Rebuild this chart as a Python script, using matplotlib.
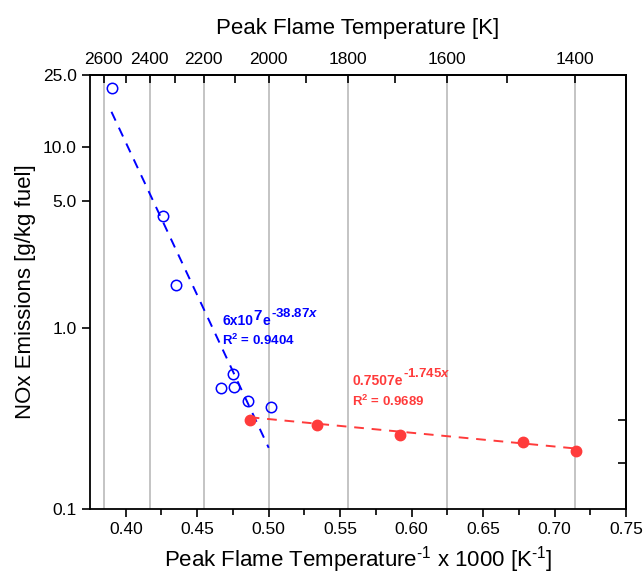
import numpy as np
import matplotlib
matplotlib.use("Agg")
from matplotlib import pyplot as plt
from matplotlib.ticker import FixedLocator, NullLocator, NullFormatter

plt.rcParams['font.family'] = ['Liberation Sans', 'DejaVu Sans']
plt.rcParams['mathtext.fontset'] = 'custom'
plt.rcParams['mathtext.rm'] = 'Liberation Sans'
plt.rcParams['mathtext.it'] = 'Liberation Sans:italic'
plt.rcParams['mathtext.bf'] = 'Liberation Sans:bold'
plt.rcParams['mathtext.bfit'] = 'Liberation Sans:bold:italic'

# Data (x = 1000 / T_peak)
blue_x = [0.3902, 0.4259, 0.4350, 0.4664, 0.4748, 0.4755, 0.4853, 0.5014]
blue_y = [21.2, 4.16, 1.73, 0.466, 0.557, 0.472, 0.395, 0.366]
red_x = [0.4867, 0.5336, 0.5916, 0.6776, 0.7147]
red_y = [0.310, 0.291, 0.255, 0.235, 0.209]

# Exponential fits shown on the chart: y = a * exp(b * x)
blue_fit = (6e7, -38.87)
blue_fit_range = [0.390, 0.500]
red_fit = (0.7507, -1.745)
red_fit_range = [0.4867, 0.7147]

top_temps = [2600, 2400, 2200, 2000, 1800, 1600, 1400]
top_minor = [2500, 2300, 2100, 1900, 1700, 1500]
y_ticks = [0.1, 1.0, 5.0, 10.0, 25.0]
right_ticks = [0.18, 0.31]
x_ticks = [0.40, 0.45, 0.50, 0.55, 0.60, 0.65, 0.70, 0.75]

blue = '#0000ff'
red = '#ff3b3b'

fig = plt.figure(figsize=(6.43, 5.77), dpi=100)
ax = fig.add_axes([0.140, 0.118, 0.8336, 0.752])

# gray guide lines at the top-axis temperatures
for t in top_temps:
    ax.axvline(1000.0 / t, color='#c4c4c4', lw=1.4, zorder=0)

# fit lines
for (a, b), rng, c in [(blue_fit, blue_fit_range, blue), (red_fit, red_fit_range, red)]:
    xx = np.linspace(rng[0], rng[1], 50)
    ax.plot(xx, a * np.exp(b * xx), ls=(0, (5, 4)), color=c, lw=1.4, zorder=2)

ax.plot(blue_x, blue_y, 'o', mfc='none', mec=blue, mew=1.1, ms=7.5, zorder=3)
ax.plot(red_x, red_y, 'o', mfc=red, mec=red, ms=7.5, zorder=3)

ax.set_yscale('log')
ax.set_xlim(0.375, 0.75)
ax.set_ylim(0.1, 25)

ax.yaxis.set_major_locator(FixedLocator(y_ticks))
ax.yaxis.set_minor_locator(NullLocator())
ax.set_yticklabels(['%.1f' % v for v in y_ticks])
ax.xaxis.set_major_locator(FixedLocator(x_ticks))
ax.set_xticklabels(['%.2f' % v for v in x_ticks])
ax.xaxis.set_minor_locator(FixedLocator([v + 0.025 for v in x_ticks]))
ax.tick_params(axis='both', which='major', labelsize=12.5, length=6, width=1.2, direction='out')
ax.tick_params(axis='x', which='minor', length=4, width=1.2, direction='out')
ax.tick_params(axis='x', which='both', top=False)

for s in ax.spines.values():
    s.set_linewidth(1.3)

ax.set_xlabel(r'Peak Flame Temperature$^{\text{-1}}$ x 1000 [K$^{\text{-1}}$]', fontsize=16, labelpad=5)
ax.set_ylabel('NOx Emissions [g/kg fuel]', fontsize=16, labelpad=5)

# right spine: a few inward ticks, no labels
right = ax.secondary_yaxis('right')
right.yaxis.set_major_locator(FixedLocator(right_ticks))
right.yaxis.set_minor_locator(NullLocator())
right.yaxis.set_major_formatter(NullFormatter())
right.tick_params(direction='in', length=6, width=1.2)
right.spines['right'].set_linewidth(1.3)

inv = lambda v: 1000.0 / np.where(v == 0, 1e-9, v)
top = ax.secondary_xaxis('top', functions=(inv, inv))
top.xaxis.set_major_locator(FixedLocator(top_temps))
top.xaxis.set_minor_locator(FixedLocator(top_minor))
top.xaxis.set_minor_formatter(NullFormatter())
top.set_xticklabels([str(t) for t in top_temps])
top.tick_params(which='major', direction='in', length=6, width=1.2, labelsize=12.5, pad=6)
top.tick_params(which='minor', direction='in', length=6, width=1.2)
top.spines['top'].set_linewidth(1.3)
top.set_xlabel('Peak Flame Temperature [K]', fontsize=16, labelpad=13)


def fit_label(x, y, parts, color):
    # parts: list of (text, raise in points, size); drawn one after another
    kw = dict(color=color, fontweight='bold')
    base = ax.text(x, y, parts[0][0], fontsize=10, va='baseline', **kw)
    prev = base
    for txt, rise, size in parts[1:]:
        prev = ax.annotate(txt, xy=(1, 0), xycoords=(prev, base),
                           xytext=(0.3, rise), textcoords='offset points',
                           fontsize=size, va='bottom', ha='left', **kw)
    return base


fit_label(0.4676, 1.04, [('6x10', 0, 10), ('7', 3.5, 11), ('e', 0, 10),
                         (r'-38.87$\mathbfit{x}$', 5.5, 9.5)], blue)
ax.text(0.4676, 0.806, r'$\mathbf{R^2}$ = 0.9404', color=blue, fontsize=9.5,
        fontweight='bold', va='baseline')
fit_label(0.5585, 0.484, [('0.7507e', 0, 10), (r'-1.745$\mathbfit{x}$', 5.5, 9.5)], red)
ax.text(0.5585, 0.371, r'$\mathbf{R^2}$ = 0.9689', color=red, fontsize=9.5,
        fontweight='bold', va='baseline')

fig.savefig('out.png', dpi=100)
